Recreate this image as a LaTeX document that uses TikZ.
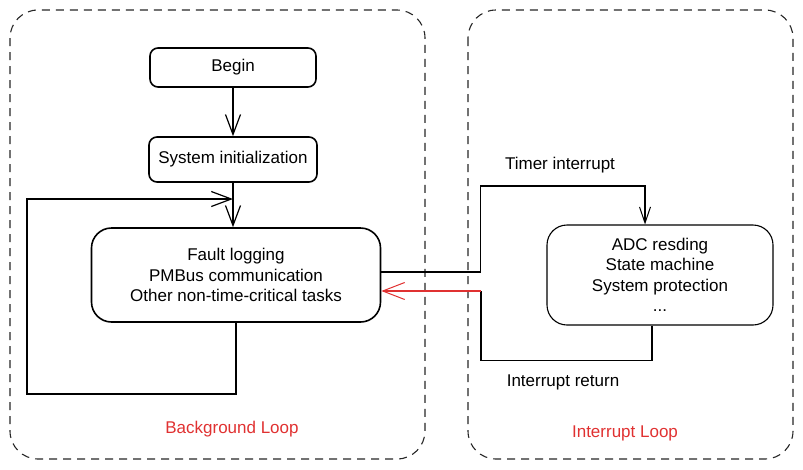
\documentclass[tikz,border=0pt]{standalone}
\usepackage{fontspec}
\setmainfont{Liberation Sans}
\usetikzlibrary{positioning,arrows.meta}
\definecolor{loopred}{HTML}{E03131}

\begin{document}
\begin{tikzpicture}[x=1pt,y=-1pt,>={Straight Barb[length=20pt,width=15pt,line width=1.2pt]},line width=1.4pt,
    task node/.style={draw,rounded corners=8pt,line width=1.6pt,align=center,inner sep=2pt,font=\fontsize{17}{20.5}\selectfont},
    loop box/.style={draw=black!85,dash pattern=on 8pt off 6pt,rounded corners=28pt,line width=1.1pt},
    thin line/.style={line width=1.1pt},
    thin tip/.style={-{Straight Barb[length=16pt,width=11pt,line width=1pt]}},
    note/.style={font=\fontsize{17}{20}\selectfont}]

            \useasboundingbox (0,0) rectangle (803,469);

            % dashed loop frames
            \draw[loop box] (10,10) rectangle (425,459);
            \draw[loop box] (468,10) rectangle (793,459);

            \node[task node, minimum width=166pt, minimum height=39pt] (1) at (233,67.5) {Begin};
            \node[task node, minimum width=168pt, minimum height=45pt] (2) [below of = 1, node distance=92pt] {System initialization};
            \node[task node, rounded corners=20pt, minimum width=289pt, minimum height=94pt] (3) [below of = 2, node distance=115.5pt, xshift=3pt] {Fault logging\\PMBus communication\\Other non-time-critical tasks};
            \node[task node, rounded corners=20pt, line width=1.1pt, minimum width=226pt, minimum height=100pt] (4) [right of = 3, node distance=424pt] {ADC resding\\State machine\\System protection\\...};

            \coordinate (join) at (233,199);
            \coordinate (ret) at (481,291);

            \node[note] (timer) at (560,165) {Timer interrupt};
            \node[note] (back) at (563,382) {Interrupt return};
            \node[note, text=loopred] (bg) at (232,429) {Background Loop};
            \node[note, text=loopred] (isr) at (625,433) {Interrupt Loop};

            \draw[->] (1) to (2);
            \draw[->] (2.south) to (join |- 3.north);
            \draw[->, line width=2pt] (3.south) -- ++(0,71) -| ([xshift=-64pt]3.west) |- (join);

            \draw[thin tip, thin line] ([yshift=3pt]3.east) -- ++(99,0) -- ++(0,-86) -| ([xshift=-15pt]4.north);
            \draw[thin line] ([xshift=-8pt]4.south) -- ++(0,35) -| (ret);
            \draw[-{Straight Barb[length=22pt,width=17pt,line width=1pt]}, thin line, loopred] (ret) -- (3.east |- ret);

            ;
        \end{tikzpicture}
\end{document}
